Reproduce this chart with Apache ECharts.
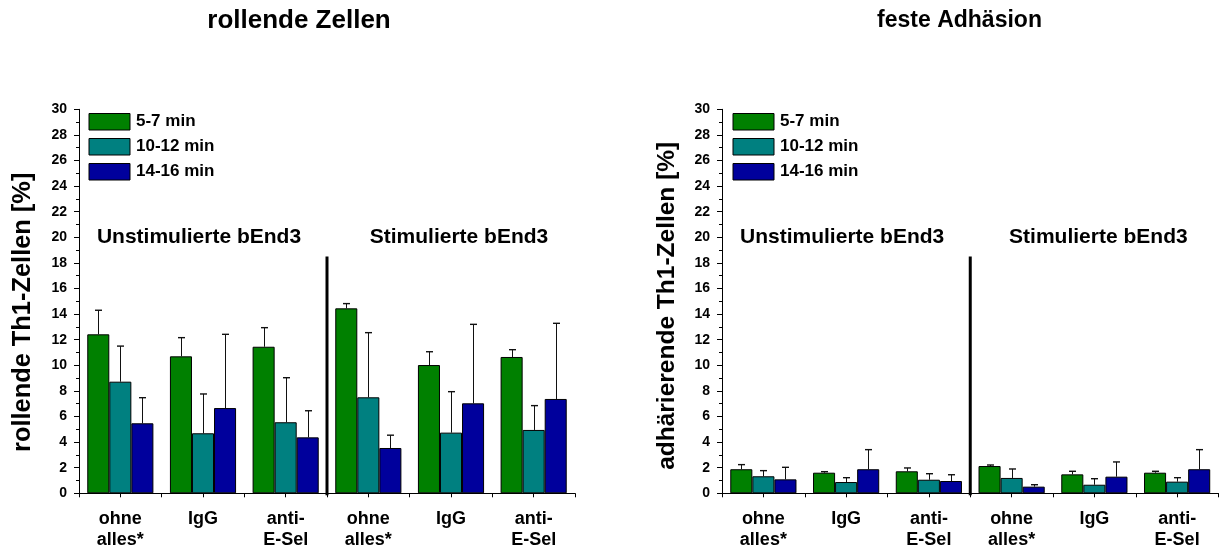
<!DOCTYPE html>
<html>
<head>
<meta charset="utf-8">
<script src="https://cdn.jsdelivr.net/npm/echarts@6/dist/echarts.min.js"></script>
<style>
html,body{margin:0;padding:0;background:#fff;}
#chart{width:1220px;height:547px;}
</style>
</head>
<body>
<div id="chart"></div>
<script>
// ---- data ----
const categories = ['ohne\nalles*', 'IgG', 'anti-\nE-Sel', 'ohne\nalles*', 'IgG', 'anti-\nE-Sel'];
const seriesNames = ['5-7 min', '10-12 min', '14-16 min'];
const yTicks = [0, 30, 2];
const groupLabels = ['Unstimulierte bEnd3', 'Stimulierte bEnd3'];
const chartTitles = ['rollende Zellen', 'feste Adhäsion'];
const yNames = ['rollende Th1-Zellen [%]', 'adhärierende Th1-Zellen [%]'];

// rolling cells (%)
const roll57 = [12.42, 10.70, 11.45, 14.45, 10.02, 10.65];
const roll57Err = [1.88, 1.46, 1.49, 0.37, 1.04, 0.57];
const roll1012 = [8.72, 4.69, 5.55, 7.50, 4.74, 4.95];
const roll1012Err = [2.78, 3.07, 3.48, 5.05, 3.20, 1.90];
const roll1416 = [5.47, 6.66, 4.37, 3.54, 7.03, 7.37];
const roll1416Err = [2.00, 5.76, 2.08, 1.00, 6.17, 5.91];

// firm adhesion (%)
const adh57 = [1.88, 1.61, 1.72, 2.13, 1.48, 1.61];
const adh57Err = [0.36, 0.08, 0.26, 0.08, 0.24, 0.11];
const adh1012 = [1.33, 0.88, 1.06, 1.20, 0.67, 0.91];
const adh1012Err = [0.44, 0.34, 0.47, 0.70, 0.47, 0.31];
const adh1416 = [1.09, 1.88, 0.96, 0.52, 1.30, 1.88];
const adh1416Err = [0.94, 1.53, 0.49, 0.15, 1.15, 1.53];

// ---- styling ----
const FONT = 'Liberation Sans, Arial, sans-serif';
const colors = ['#008000', '#008080', '#00009c'];
const BAR_GAP_RATIO = 0.2;

const chart = echarts.init(document.getElementById('chart'), null, {renderer: 'canvas'});

const grids = [
  {left: 79, right: 645, top: 109.3, bottom: 53.7, outerBoundsMode: 'none', containLabel: false},
  {left: 722, right: 1.5, top: 109.3, bottom: 53.7, outerBoundsMode: 'none', containLabel: false}
];

const chartData = [
  [[roll57, roll57Err], [roll1012, roll1012Err], [roll1416, roll1416Err]],
  [[adh57, adh57Err], [adh1012, adh1012Err], [adh1416, adh1416Err]]
];

const xAxes = [], yAxes = [], series = [], legends = [], titles = [];
[0, 1].forEach(g => {
  xAxes.push({
    type: 'category', gridIndex: g, data: categories,
    axisLine: {lineStyle: {color: '#000', width: 1}},
    axisTick: {show: true, length: 4, lineStyle: {color: '#000'}},
    axisLabel: {color: '#000', fontFamily: FONT, fontWeight: 'bold', fontSize: 18, lineHeight: 21, margin: 15, interval: 0}
  });
  yAxes.push({
    type: 'value', gridIndex: g, min: yTicks[0], max: yTicks[1], interval: yTicks[2],
    name: yNames[g], nameLocation: 'middle', nameGap: g === 0 ? 44 : 42,
    nameTextStyle: {color: '#000', fontFamily: FONT, fontWeight: 'bold', fontSize: g === 0 ? 25.4 : 24.5,
      padding: g === 0 ? [0, 22, 0, 0] : [0, 9, 0, 0]},
    axisLine: {show: true, lineStyle: {color: '#000', width: 1}},
    axisTick: {show: true, length: 5, lineStyle: {color: '#000'}},
    minorTick: {show: true, splitNumber: 2, length: 3, lineStyle: {color: '#000'}},
    splitLine: {show: false},
    axisLabel: {color: '#000', fontFamily: FONT, fontWeight: 'bold', fontSize: 14, margin: 12}
  });
  titles.push({
    text: chartTitles[g], left: g === 0 ? 299 : 959.5, top: 21, textAlign: 'center', textVerticalAlign: 'middle',
    padding: 0,
    textStyle: {color: '#000', fontFamily: FONT, fontWeight: 'bold', fontSize: g === 0 ? 26 : 23}
  });
  legends.push({
    orient: 'vertical', left: g === 0 ? 88.5 : 732.5, top: 113, padding: 0,
    itemWidth: 41, itemHeight: 16.5, itemGap: 7.5,
    icon: 'rect',
    data: seriesNames,
    textStyle: {color: '#000', fontFamily: FONT, fontWeight: 'bold', fontSize: 17, padding: [0, 0, 0, 1]},
    itemStyle: {borderColor: '#000', borderWidth: 1},
    selectedMode: false
  });
});
// extra axes for ticks at category centres
[0, 1].forEach(g => {
  xAxes.push({
    type: 'category', gridIndex: g, data: categories, position: 'bottom',
    axisLine: {show: false},
    axisTick: {show: true, alignWithLabel: true, length: 4, lineStyle: {color: '#000'}},
    axisLabel: {show: false}
  });
});

[0, 1].forEach(g => {
  chartData[g].forEach((pair, s) => {
    series.push({
      name: seriesNames[s], type: 'bar', xAxisIndex: g, yAxisIndex: g,
      data: pair[0],
      barGap: '0%', barCategoryGap: (BAR_GAP_RATIO * 100) + '%',
      itemStyle: {color: colors[s], borderColor: '#000', borderWidth: 1},
      emphasis: {disabled: true},
      z: 2
    });
  });
  chartData[g].forEach((pair, s) => {
    series.push({
      type: 'custom', xAxisIndex: g, yAxisIndex: g,
      data: pair[0].map((v, i) => [i, v, v + pair[1][i]]),
      z: 1,
      silent: true,
      renderItem: function (params, api) {
        const base = api.coord([api.value(0), api.value(1)]);
        const top = api.coord([api.value(0), api.value(2)]);
        const band = api.size([1, 0])[0];
        const bw = band * (1 - BAR_GAP_RATIO) / 3;
        const x = Math.round(base[0] + (s - 1) * bw) + 0.5;
        const cap = 3.5;
        return {
          type: 'group',
          children: [
            {type: 'line', shape: {x1: x, y1: base[1], x2: x, y2: top[1]}, style: {stroke: '#111', lineWidth: 1}},
            {type: 'line', shape: {x1: x - cap, y1: top[1], x2: x + cap, y2: top[1]}, style: {stroke: '#111', lineWidth: 1.4}}
          ]
        };
      }
    });
  });
});

chart.setOption({
  animation: false,
  backgroundColor: '#fff',
  title: titles,
  legend: legends,
  grid: grids,
  xAxis: xAxes,
  yAxis: yAxes,
  series: series
});

// separators and group labels, positioned through the axes
const graphics = [];
[0, 1].forEach(g => {
  const c2 = chart.convertToPixel({xAxisIndex: g}, 2);
  const c3 = chart.convertToPixel({xAxisIndex: g}, 3);
  const xs = (c2 + c3) / 2;
  const yTop = chart.convertToPixel({yAxisIndex: g}, 18.5);
  const y0 = chart.convertToPixel({yAxisIndex: g}, 0);
  graphics.push({
    type: 'line', shape: {x1: xs, y1: yTop, x2: xs, y2: y0 + 2},
    style: {stroke: '#000', lineWidth: 3}, z: 10
  });
  [1, 4].forEach((ci, k) => {
    const px = chart.convertToPixel({xAxisIndex: g}, ci);
    const py = chart.convertToPixel({yAxisIndex: g}, 20);
    const dx = k === 0 ? -4 : (g === 0 ? 8 : 4);
    graphics.push({
      type: 'text', x: px + dx, y: py,
      style: {text: groupLabels[k], fill: '#000', font: 'bold 21px ' + FONT, textAlign: 'center', textVerticalAlign: 'middle'},
      z: 10
    });
  });
});
chart.setOption({graphic: graphics});
</script>
</body>
</html>
